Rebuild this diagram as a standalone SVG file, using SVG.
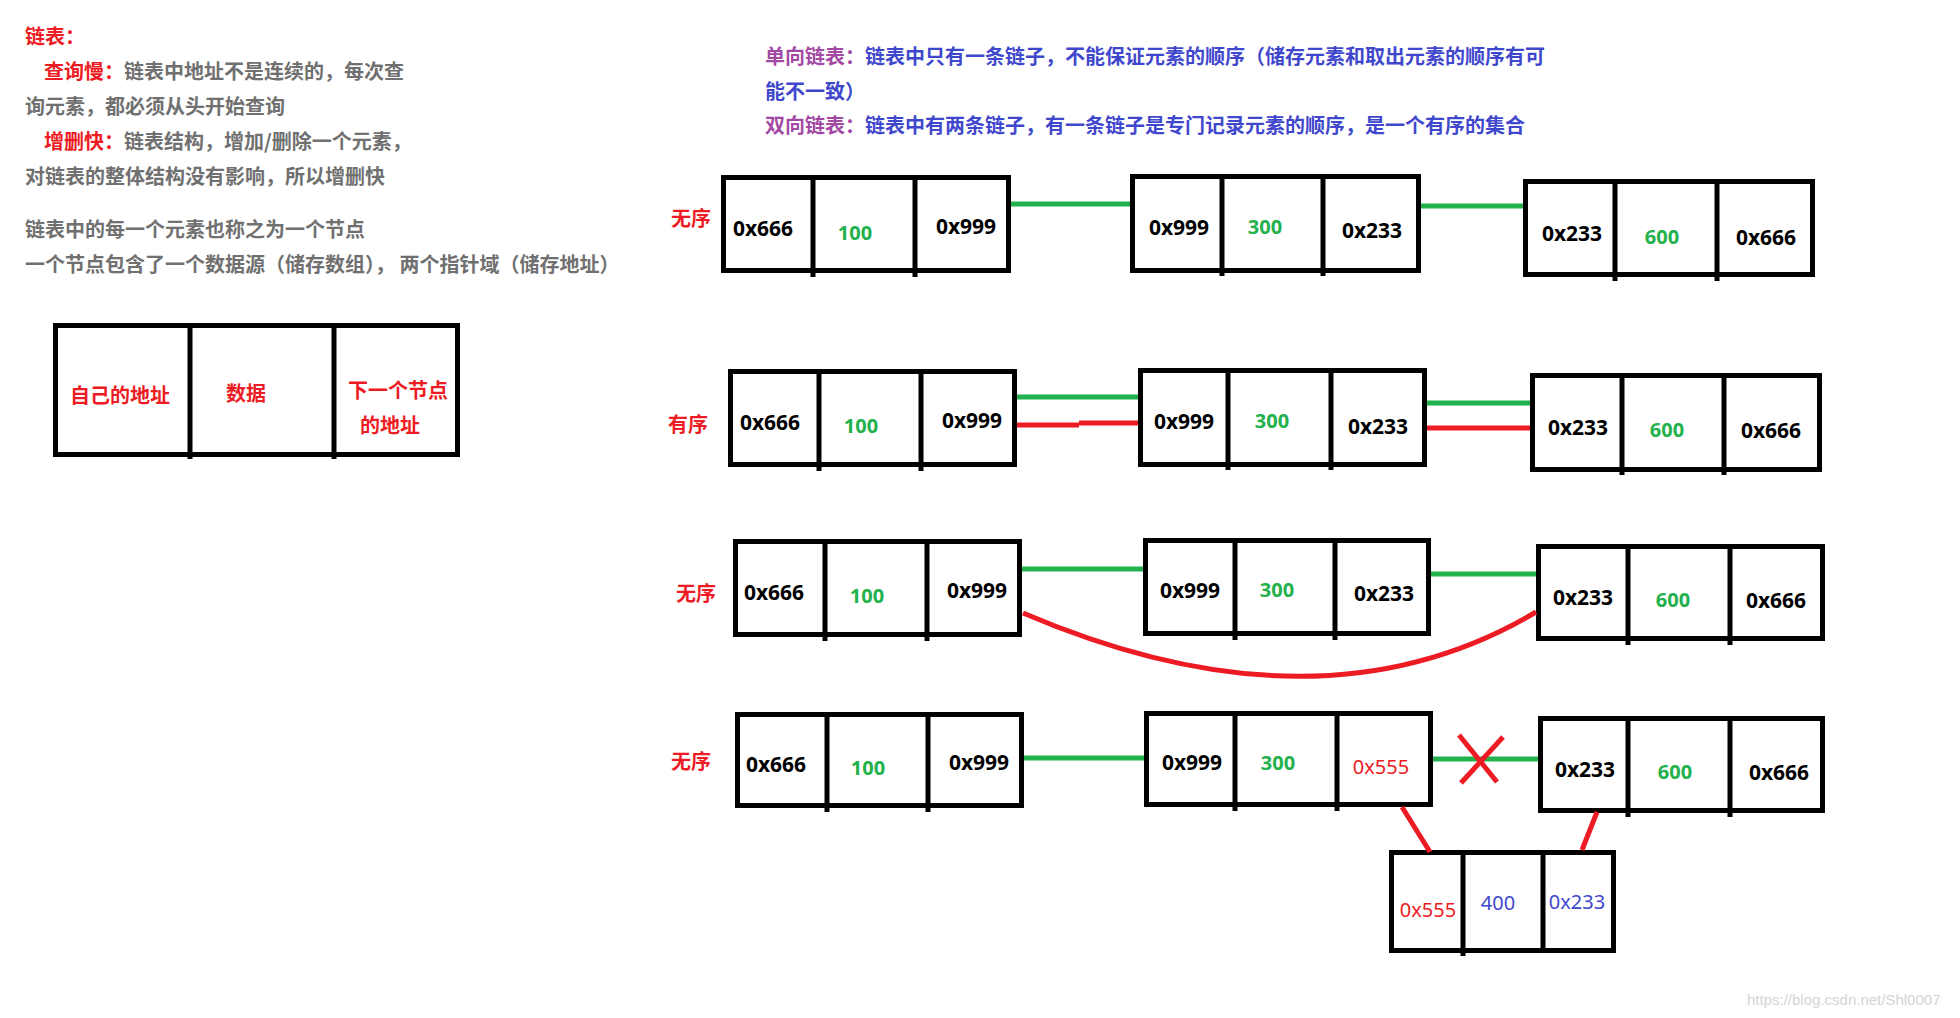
<svg xmlns="http://www.w3.org/2000/svg" width="1960" height="1018" viewBox="0 0 1960 1018">
<style>
.bg{fill:#fff}
.box{fill:none;stroke:#000;stroke-width:5}
.dv{stroke:#000;stroke-width:5}
.cj{font-family:"Noto Sans CJK SC","Noto Sans",sans-serif;font-size:20px;font-weight:bold;dominant-baseline:central}
.gray{fill:#707070}
.red{fill:#ed1c24}
.pur{fill:#a349a4}
.ind{fill:#3f48cc}
.lbl{font-family:"Noto Sans CJK SC","Noto Sans",sans-serif;font-size:20px;font-weight:bold;fill:#ed1c24;text-anchor:middle;dominant-baseline:central}
.hex{font-family:"Noto Sans","Liberation Sans",sans-serif;font-size:21px;font-weight:bold;fill:#000;text-anchor:middle;dominant-baseline:central}
.num{font-family:"Noto Sans","Liberation Sans",sans-serif;font-size:20px;font-weight:bold;fill:#22b14c;text-anchor:middle;dominant-baseline:central}
.thin{font-family:"Noto Sans","Liberation Sans",sans-serif;font-size:20px;font-weight:normal;text-anchor:middle;dominant-baseline:central}
.g{stroke:#22b14c;stroke-width:5;fill:none}
.r{stroke:#ed1c24;stroke-width:5;fill:none}
.wm{font-family:"Liberation Sans",Arial,sans-serif;font-size:15px;fill:#d4d4d4}
</style>
<rect class="bg" x="0" y="0" width="1960" height="1018"/>

<g id="notes">
<text class="cj red" x="25" y="35">链表：</text>
<text class="cj" x="44" y="70"><tspan class="red">查询慢：</tspan><tspan class="gray">链表中地址不是连续的，每次查</tspan></text>
<text class="cj gray" x="25" y="105">询元素，都必须从头开始查询</text>
<text class="cj" x="44" y="140"><tspan class="red">增删快：</tspan><tspan class="gray">链表结构，增加/删除一个元素，</tspan></text>
<text class="cj gray" x="25" y="175">对链表的整体结构没有影响，所以增删快</text>
<text class="cj gray" x="25" y="228">链表中的每一个元素也称之为一个节点</text>
<text class="cj gray" x="25" y="263">一个节点包含了一个数据源（储存数组）， 两个指针域（储存地址）</text>
<text class="cj" x="765" y="55"><tspan class="pur">单向链表：</tspan><tspan class="ind">链表中只有一条链子，不能保证元素的顺序（储存元素和取出元素的顺序有可</tspan></text>
<text class="cj ind" x="765" y="90">能不一致）</text>
<text class="cj" x="765" y="124"><tspan class="pur">双向链表：</tspan><tspan class="ind">链表中有两条链子，有一条链子是专门记录元素的顺序，是一个有序的集合</tspan></text>
</g>

<g id="node-template">
<rect class="box" x="55.5" y="325.5" width="402" height="129"/>
<line class="dv" x1="190" y1="323" x2="190" y2="459"/>
<line class="dv" x1="334" y1="323" x2="334" y2="459"/>
<text class="lbl" x="120" y="394">自己的地址</text>
<text class="lbl" x="246" y="392">数据</text>
<text class="lbl" x="398" y="389">下一个节点</text>
<text class="lbl" x="390" y="424">的地址</text>
</g>

<g id="row-labels">
<text class="lbl" x="691" y="217">无序</text>
<text class="lbl" x="688" y="423">有序</text>
<text class="lbl" x="696" y="592">无序</text>
<text class="lbl" x="691" y="760">无序</text>
</g>

<g id="r1-a">
<rect class="box" x="723.5" y="177.5" width="285" height="93"/>
<line class="dv" x1="813" y1="175" x2="813" y2="277"/>
<line class="dv" x1="915" y1="175" x2="915" y2="277"/>
<text class="hex" x="763" y="228">0x666</text>
<text class="num" x="855" y="232">100</text>
<text class="hex" x="966" y="226">0x999</text>
</g>
<g id="r1-b">
<rect class="box" x="1132.5" y="176.5" width="286" height="94"/>
<line class="dv" x1="1222" y1="174" x2="1222" y2="276"/>
<line class="dv" x1="1323" y1="174" x2="1323" y2="276"/>
<text class="hex" x="1179" y="227">0x999</text>
<text class="num" x="1265" y="226">300</text>
<text class="hex" x="1372" y="230">0x233</text>
</g>
<g id="r1-c">
<rect class="box" x="1525.5" y="181.5" width="287" height="93"/>
<line class="dv" x1="1615" y1="179" x2="1615" y2="281"/>
<line class="dv" x1="1717" y1="179" x2="1717" y2="281"/>
<text class="hex" x="1572" y="233">0x233</text>
<text class="num" x="1662" y="236">600</text>
<text class="hex" x="1766" y="237">0x666</text>
</g>

<g id="r2-a">
<rect class="box" x="730.5" y="371.5" width="284" height="93"/>
<line class="dv" x1="819" y1="369" x2="819" y2="471"/>
<line class="dv" x1="921" y1="369" x2="921" y2="471"/>
<text class="hex" x="770" y="422">0x666</text>
<text class="num" x="861" y="425">100</text>
<text class="hex" x="972" y="420">0x999</text>
</g>
<g id="r2-b">
<rect class="box" x="1140.5" y="370.5" width="284" height="94"/>
<line class="dv" x1="1228" y1="368" x2="1228" y2="470"/>
<line class="dv" x1="1331" y1="368" x2="1331" y2="470"/>
<text class="hex" x="1184" y="421">0x999</text>
<text class="num" x="1272" y="420">300</text>
<text class="hex" x="1378" y="426">0x233</text>
</g>
<g id="r2-c">
<rect class="box" x="1532.5" y="375.5" width="287" height="94"/>
<line class="dv" x1="1622" y1="373" x2="1622" y2="475"/>
<line class="dv" x1="1724" y1="373" x2="1724" y2="475"/>
<text class="hex" x="1578" y="427">0x233</text>
<text class="num" x="1667" y="429">600</text>
<text class="hex" x="1771" y="430">0x666</text>
</g>

<g id="r3-a">
<rect class="box" x="735.5" y="541.5" width="284" height="93"/>
<line class="dv" x1="825" y1="539" x2="825" y2="641"/>
<line class="dv" x1="927" y1="539" x2="927" y2="641"/>
<text class="hex" x="774" y="592">0x666</text>
<text class="num" x="867" y="595">100</text>
<text class="hex" x="977" y="590">0x999</text>
</g>
<g id="r3-b">
<rect class="box" x="1145.5" y="540.5" width="283" height="93"/>
<line class="dv" x1="1235" y1="538" x2="1235" y2="640"/>
<line class="dv" x1="1335" y1="538" x2="1335" y2="640"/>
<text class="hex" x="1190" y="590">0x999</text>
<text class="num" x="1277" y="589">300</text>
<text class="hex" x="1384" y="593">0x233</text>
</g>
<g id="r3-c">
<rect class="box" x="1538.5" y="546.5" width="284" height="92"/>
<line class="dv" x1="1628" y1="544" x2="1628" y2="645"/>
<line class="dv" x1="1730" y1="544" x2="1730" y2="645"/>
<text class="hex" x="1583" y="597">0x233</text>
<text class="num" x="1673" y="599">600</text>
<text class="hex" x="1776" y="600">0x666</text>
</g>

<g id="r4-a">
<rect class="box" x="737.5" y="714.5" width="284" height="91"/>
<line class="dv" x1="827" y1="712" x2="827" y2="812"/>
<line class="dv" x1="928" y1="712" x2="928" y2="812"/>
<text class="hex" x="776" y="764">0x666</text>
<text class="num" x="868" y="767">100</text>
<text class="hex" x="979" y="762">0x999</text>
</g>
<g id="r4-b">
<rect class="box" x="1146.5" y="713.5" width="284" height="91"/>
<line class="dv" x1="1235" y1="711" x2="1235" y2="811"/>
<line class="dv" x1="1337" y1="711" x2="1337" y2="811"/>
<text class="hex" x="1192" y="762">0x999</text>
<text class="num" x="1278" y="762">300</text>
<text class="thin red" x="1381" y="766">0x555</text>
</g>
<g id="r4-c">
<rect class="box" x="1540.5" y="718.5" width="282" height="92"/>
<line class="dv" x1="1628" y1="716" x2="1628" y2="817"/>
<line class="dv" x1="1730" y1="716" x2="1730" y2="817"/>
<text class="hex" x="1585" y="769">0x233</text>
<text class="num" x="1675" y="771">600</text>
<text class="hex" x="1779" y="772">0x666</text>
</g>
<g id="r4-new">
<rect class="box" x="1391.5" y="852.5" width="222" height="98"/>
<line class="dv" x1="1463" y1="850" x2="1463" y2="956"/>
<line class="dv" x1="1543" y1="850" x2="1543" y2="953"/>
<text class="thin red" x="1428" y="909">0x555</text>
<text class="thin ind" x="1498" y="902">400</text>
<text class="thin ind" x="1577" y="901">0x233</text>
</g>

<g id="connectors">
<line class="g" x1="1011" y1="204" x2="1130" y2="204"/>
<line class="g" x1="1421" y1="206" x2="1523" y2="206"/>
<line class="g" x1="1017" y1="397" x2="1138" y2="397"/>
<line class="r" x1="1017" y1="425" x2="1079" y2="425"/>
<line class="r" x1="1079" y1="423" x2="1138" y2="423"/>
<line class="g" x1="1427" y1="403" x2="1530" y2="403"/>
<line class="r" x1="1427" y1="428" x2="1530" y2="428"/>
<line class="g" x1="1022" y1="569" x2="1143" y2="569"/>
<line class="g" x1="1431" y1="574" x2="1536" y2="574"/>
<path class="r" d="M1023,613 Q1320,740 1536,612"/>
<line class="g" x1="1024" y1="758" x2="1144" y2="758"/>
<line class="g" x1="1433" y1="759" x2="1538" y2="759"/>
<line class="r" x1="1459" y1="735" x2="1497" y2="782"/>
<line class="r" x1="1503" y1="737" x2="1461" y2="783"/>
<line class="r" x1="1402" y1="807" x2="1430" y2="852"/>
<line class="r" x1="1597" y1="812" x2="1582" y2="850"/>
</g>

<text class="wm" x="1747" y="1005">https://blog.csdn.net/Shl0007</text>
</svg>
